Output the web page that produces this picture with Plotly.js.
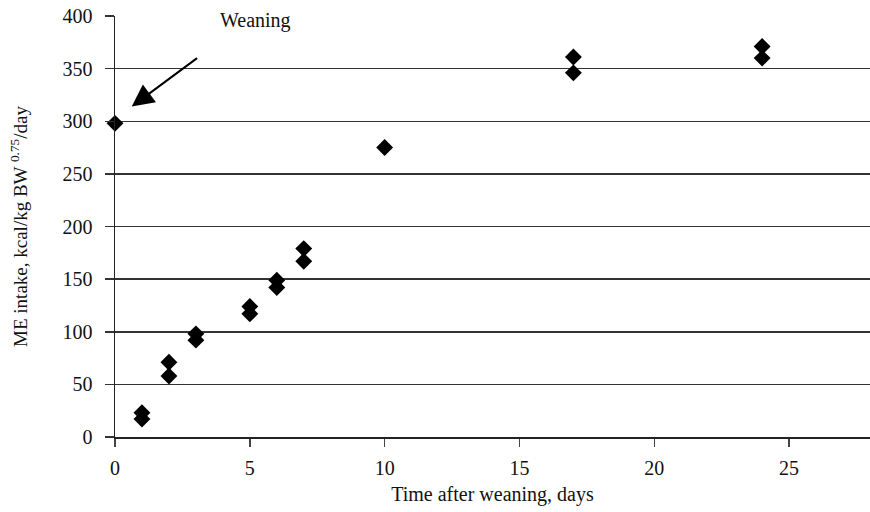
<!DOCTYPE html>
<html>
<head>
<meta charset="utf-8">
<script src="https://cdn.plot.ly/plotly-3.0.1.min.js"></script>
<style>html,body{margin:0;padding:0;background:#fff;}#chart{width:870px;height:512px;}</style>
</head>
<body>
<div id="chart"></div>
<script>
// Data
const days = [0, 1, 1, 2, 2, 3, 3, 5, 5, 6, 6, 7, 7, 10, 17, 17, 24, 24];
const meIntake = [298, 23, 17, 71, 58, 98, 92, 124, 117, 149, 142, 179, 167, 275, 361, 346, 371, 360];
const xTicks = [0, 5, 10, 15, 20, 25];
const yTicks = [0, 50, 100, 150, 200, 250, 300, 350, 400];

const fam = 'Liberation Serif, Times New Roman, serif';
const tickFont = {family: fam, size: 20, color: '#111'};
const xTitleFont = {family: fam, size: 20, color: '#111'};
const yTitleFont = {family: fam, size: 19, color: '#111'};

const trace = {
  x: days, y: meIntake, type: 'scatter', mode: 'markers',
  marker: {symbol: 'diamond', size: 13, color: '#000'},
  hoverinfo: 'skip', cliponaxis: false
};

const layout = {
  width: 870, height: 512,
  margin: {l: 115, r: 0, t: 16, b: 75},
  paper_bgcolor: '#fff', plot_bgcolor: '#fff',
  font: tickFont,
  showlegend: false,
  xaxis: {
    range: [0, 28], tickvals: xTicks, ticktext: xTicks.map(String),
    showgrid: false, zeroline: false,
    showline: true, linecolor: '#222', linewidth: 1.5,
    ticks: 'outside', ticklen: 8, tickcolor: '#444', tickwidth: 1.5,
    tickfont: tickFont, ticklabelstandoff: 4,
    title: {text: 'Time after weaning, days', font: xTitleFont, standoff: 9}
  },
  yaxis: {
    range: [0, 400], tickvals: yTicks, ticktext: yTicks.map(String),
    showgrid: true, gridcolor: '#333', gridwidth: 1.5,
    zeroline: false,
    showline: true, linecolor: '#222', linewidth: 1.5,
    ticks: 'outside', ticklen: 9, tickcolor: '#333', tickwidth: 1.5,
    tickfont: tickFont, ticklabelstandoff: 8,
    title: {text: 'ME intake, kcal/kg BW <sup>0.75</sup>/day', font: yTitleFont, standoff: 30}
  },
  annotations: [
    {x: 5.2, y: 396, xref: 'x', yref: 'y', text: 'Weaning', showarrow: false,
     font: {family: fam, size: 20, color: '#111'}},
    {x: 0.62, y: 314, xref: 'x', yref: 'y', ax: 3.1, ay: 361, axref: 'x', ayref: 'y',
     text: '', showarrow: true, arrowhead: 2, arrowsize: 2.2, arrowwidth: 2, arrowcolor: '#000', standoff: 0}
  ]
};

Plotly.newPlot('chart', [trace], layout, {displayModeBar: false, staticPlot: true});
</script>
</body>
</html>
